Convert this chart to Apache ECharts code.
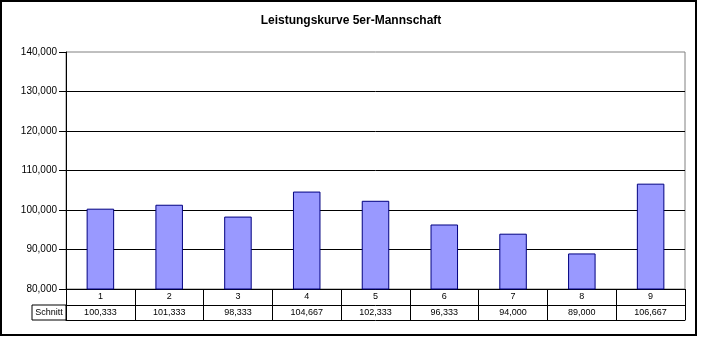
<!DOCTYPE html>
<html>
<head>
<meta charset="utf-8">
<script src="https://cdn.jsdelivr.net/npm/echarts@6/dist/echarts.min.js"></script>
<style>
  html, body { margin: 0; padding: 0; background: #fff; }
  #chart { width: 702px; height: 337px; }
</style>
</head>
<body>
<div id="chart"></div>
<script>
// Team performance per round (average score of the 5-player team)
const titleText = 'Leistungskurve 5er-Mannschaft';
const rounds = ['1', '2', '3', '4', '5', '6', '7', '8', '9'];
const schnitt = [100333, 101333, 98333, 104667, 102333, 96333, 94000, 89000, 106667];
const rowLabel = 'Schnitt';
const yMin = 80000, yMax = 140000, yStep = 10000;

const fmt = v => Math.round(v).toLocaleString('en-US');
const FONT = 'Arial, "Liberation Sans", sans-serif';

const chart = echarts.init(document.getElementById('chart'), null, { renderer: 'canvas' });

chart.setOption({
  animation: false,
  backgroundColor: '#fff',
  title: {
    text: titleText,
    left: 'center',
    top: 10,
    textStyle: { fontFamily: FONT, fontSize: 12, fontWeight: 'bold', color: '#000' }
  },
  grid: {
    left: 66, right: 17, top: 52, bottom: 48,
    show: true, borderColor: '#808080', borderWidth: 1,
    outerBoundsMode: 'none'
  },
  yAxis: {
    type: 'value',
    min: yMin, max: yMax, interval: yStep,
    axisLine: { show: true, lineStyle: { color: '#000', width: 1 } },
    axisTick: { show: true, length: 7, lineStyle: { color: '#000' } },
    axisLabel: { margin: 9, fontFamily: FONT, fontSize: 10, color: '#000', formatter: fmt },
    splitLine: { show: true, showMaxLine: false, lineStyle: { color: '#000', width: 1 } }
  },
  xAxis: [
    {
      // first table row: round numbers, ticks form the cell dividers
      type: 'category',
      data: rounds,
      position: 'bottom',
      axisLine: { show: true, lineStyle: { color: '#000' } },
      axisTick: { show: true, interval: 0, length: 31, lineStyle: { color: '#000' } },
      axisLabel: { margin: 3, fontFamily: FONT, fontSize: 9, color: '#000' },
      splitLine: { show: false }
    },
    {
      // second table row: averages
      type: 'category',
      data: schnitt.map(fmt),
      position: 'bottom',
      offset: 16,
      axisLine: { show: true, lineStyle: { color: '#000' } },
      axisTick: { show: false },
      axisLabel: { margin: 3, fontFamily: FONT, fontSize: 9, color: '#000', interval: 0 },
      name: '{cell|' + rowLabel + '}',
      nameLocation: 'start',
      nameGap: 0,
      nameTextStyle: {
        verticalAlign: 'top',
        rich: {
          cell: {
            width: 34, height: 15, lineHeight: 15, align: 'center',
            fontFamily: FONT, fontSize: 9, color: '#000',
            borderColor: '#000', borderWidth: 1
          }
        }
      }
    },
    {
      // bottom edge of the table
      type: 'category',
      data: rounds,
      position: 'bottom',
      offset: 31,
      axisLine: { show: true, lineStyle: { color: '#000' } },
      axisTick: { show: false },
      axisLabel: { show: false }
    }
  ],
  series: [{
    type: 'bar',
    xAxisIndex: 0,
    data: schnitt,
    barWidth: '40%',
    itemStyle: { color: '#9999FF', borderColor: '#000080', borderWidth: 1 }
  }],
  graphic: [{
    type: 'rect',
    shape: { x: 1, y: 1, width: 695, height: 334 },
    style: { fill: null, stroke: '#000', lineWidth: 2 },
    silent: true,
    z: 100
  }]
});
</script>
</body>
</html>
